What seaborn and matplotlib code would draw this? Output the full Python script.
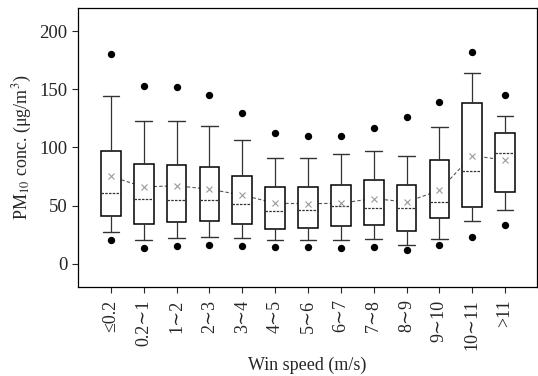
import matplotlib
matplotlib.use("Agg")
import matplotlib.pyplot as plt
import seaborn as sns
import numpy as np
import pandas as pd

categories = ["≤0.2", "0.2∼1", "1∼2", "2∼3", "3∼4", "4∼5", "5∼6", "6∼7",
              "7∼8", "8∼9", "9∼10", "10∼11", ">11"]
q1 = [41, 34, 36, 36.5, 34, 30, 31, 32, 33, 28.5, 39, 49, 62]
median = [61, 56, 55, 55, 51, 45.5, 46, 50, 48, 48, 53, 80, 95]
q3 = [97, 86, 85, 83, 75, 66, 66, 67.5, 72, 68, 89, 138.5, 112]
whisker_low = [27.5, 20, 22, 23, 22, 20, 20, 20, 21, 16, 21, 37, 46]
whisker_high = [144, 123, 123, 118, 106, 91, 91, 94.5, 97, 93, 117.5, 164, 127]
means = [75, 66, 67, 64, 59, 52, 51.5, 52, 56, 53, 63, 93, 89]
minimum = [20, 13.5, 15.5, 16, 15.5, 14, 14, 13.5, 14.5, 12, 16, 23, 33.5]
maximum = [180, 153, 152, 145, 130, 112, 110, 110, 117, 126, 139, 182, 145]

sns.set_theme(style="ticks")
plt.rcParams["font.family"] = ["Liberation Serif", "DejaVu Serif"]
plt.rcParams["mathtext.fontset"] = "stix"

fig = plt.figure(figsize=(5.38, 3.76), dpi=100)
ax = fig.add_axes([0.145, 0.237, 0.853, 0.742])

pos = np.arange(len(categories))
stats = []
for i in range(len(categories)):
    stats.append(dict(label=categories[i], q1=q1[i], med=median[i], q3=q3[i],
                      whislo=whisker_low[i], whishi=whisker_high[i],
                      mean=means[i], fliers=[]))

# dashed mean line behind boxes
df_mean = pd.DataFrame({"x": pos, "mean": means})
sns.lineplot(data=df_mean, x="x", y="mean", ax=ax, color="#555555",
             linestyle=(0, (3, 2)), linewidth=0.8, zorder=1)

ax.bxp(stats, positions=pos, widths=0.6, showmeans=True, patch_artist=True,
       showfliers=False, capwidths=0.5,
       boxprops=dict(facecolor="white", edgecolor="black", linewidth=1.1),
       medianprops=dict(color="#333333", linewidth=0.9, linestyle=(0, (2, 1))),
       whiskerprops=dict(color="#333333", linewidth=0.9),
       capprops=dict(color="#333333", linewidth=1.0),
       meanprops=dict(marker="x", markeredgecolor="#999999", markersize=4,
                      markeredgewidth=0.8),
       zorder=2)

df_ext = pd.DataFrame({"x": np.concatenate([pos, pos]),
                       "v": np.concatenate([minimum, maximum])})
sns.scatterplot(data=df_ext, x="x", y="v", ax=ax, color="black", s=28,
                edgecolor="black", linewidth=0, zorder=3)

ax.set_xlim(-1, 12.97)
ax.set_ylim(-20, 220)
ax.set_yticks([0, 50, 100, 150, 200])
ax.set_xticks(pos)
ax.set_xticklabels(categories, rotation=90, fontsize=13)
ax.tick_params(axis="y", labelsize=13.5, direction="out", length=4, width=0.8)
ax.tick_params(axis="x", direction="out", length=4, width=0.8, pad=5)
for s in ax.spines.values():
    s.set_linewidth(0.9)
    s.set_color("black")
ax.set_xlabel("Win speed (m/s)", fontsize=13, labelpad=5)
ax.set_ylabel(r"PM$_{10}$ conc. (μg/m$^3$)", fontsize=13, labelpad=4)

fig.savefig("out.png", dpi=100)
